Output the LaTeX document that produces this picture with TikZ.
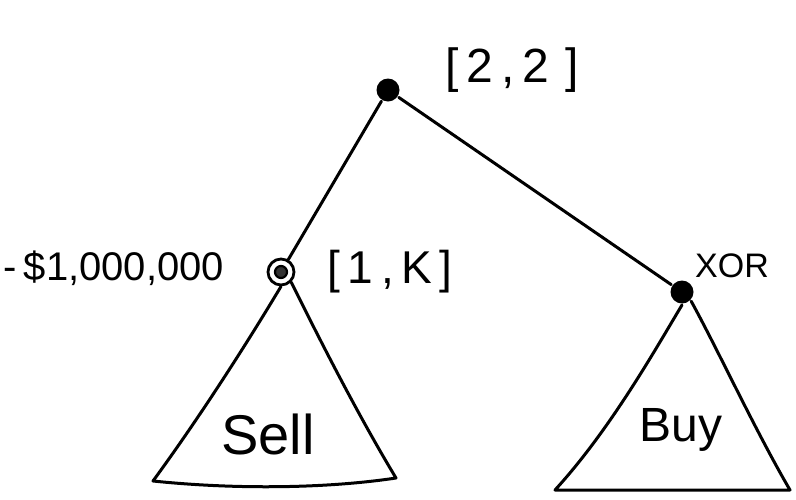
\documentclass[tikz,border=0pt]{standalone}
\usepackage{fontspec}
\setmainfont{Liberation Sans}
\begin{document}
\begin{tikzpicture}[x=1pt,y=-1pt,
  line width=3pt, line join=round, line cap=round,
  dot/.style={circle,fill=black,inner sep=0pt,minimum size=23pt},
  ring/.style={circle,draw=black,line width=2.8pt,fill=white,inner sep=0pt,minimum size=26pt,
    append after command={node[circle,draw=black,line width=2.2pt,fill=black!80,inner sep=0pt,minimum size=12pt] at (\tikzlastnode.center) {}}},
  lbl/.style={inner sep=0pt,font=\fontsize{48}{52}\selectfont},
  tri/.style={line width=3pt}]
\useasboundingbox (0,0) rectangle (796,499);
\node[dot] (root) at (388,90) {};
\node[ring] (left) at (281,272) {};
\node[dot] (right) at (682,292) {};
\draw (root) -- (left);
\draw (root) -- (right);
% left triangle
\coordinate (lbl1) at (153,481);
\coordinate (lbr1) at (396,478);
\draw[tri] (left.south) .. controls (255,330) and (205,410) .. (lbl1)
  .. controls (240,490) and (330,488) .. (lbr1)
  .. controls (355,410) and (315,330) .. (left.south east);
% right triangle
\coordinate (rbl) at (555,490);
\coordinate (rbr) at (790,490);
\draw[tri] (right.south) .. controls (655,350) and (610,430) .. (rbl)
  -- (rbr)
  .. controls (755,430) and (718,350) .. (right.south east);
% labels
\node[lbl] (l22) at (512,70) {[\,2\,,\,2\,\,]};
\node[lbl,font=\fontsize{46}{50}\selectfont] (l1k) at (390,272) {[\,1\,,\,K\,]};
\node[lbl,font=\fontsize{40}{44}\selectfont] (lmoney) at (114,268) {-\,\$1,000,000};
\node[lbl,font=\fontsize{34}{38}\selectfont] (lxor) at (732,266) {XOR};
\node[lbl,font=\fontsize{56}{60}\selectfont] (lsell) at (268,434) {Sell};
\node[lbl,font=\fontsize{48}{52}\selectfont] (lbuy) at (681,430) {Buy};
\end{tikzpicture}
\end{document}
